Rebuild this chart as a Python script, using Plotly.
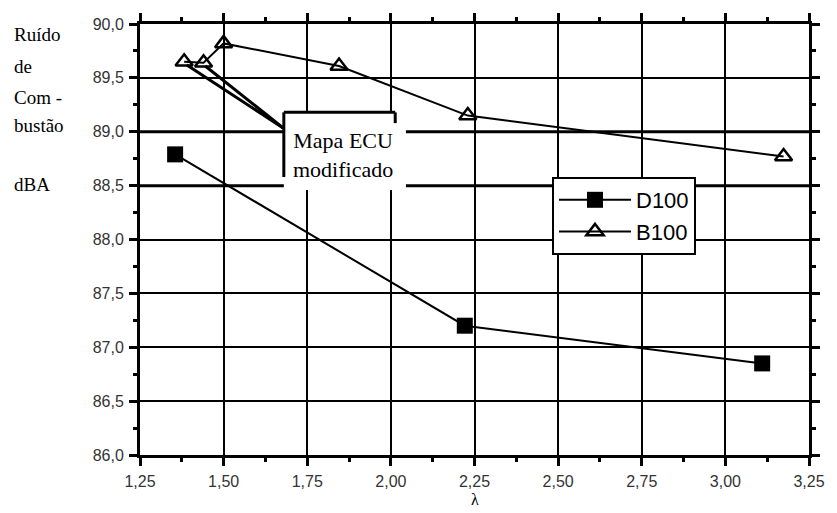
import plotly.graph_objects as go

# Data
d100_x = [1.355, 2.221, 3.11]
d100_y = [88.79, 87.20, 86.85]
b100_x = [1.382, 1.44, 1.50, 1.845, 2.23, 3.174]
b100_y = [89.65, 89.64, 89.82, 89.61, 89.15, 88.77]
x_ticks = [1.25, 1.50, 1.75, 2.00, 2.25, 2.50, 2.75, 3.00, 3.25]
y_ticks = [86.0, 86.5, 87.0, 87.5, 88.0, 88.5, 89.0, 89.5, 90.0]
title_lines = ["Ruído", "de", "Com -", "bustão", "dBA"]
title_px_y = [34, 66, 97, 125, 185]

fig = go.Figure()
fig.add_trace(go.Scatter(x=d100_x, y=d100_y, name="D100", mode="lines+markers",
                         line=dict(color="black", width=2),
                         marker=dict(symbol="square", size=16, color="black")))
fig.add_trace(go.Scatter(x=b100_x, y=b100_y, name="B100", mode="lines+markers",
                         line=dict(color="black", width=2),
                         marker=dict(symbol="triangle-up-open", size=15, color="black",
                                     line=dict(width=2.5, color="black"))))

L, R, T, B = 140, 15, 24, 58
W, H = 837, 513
pw, ph = W - L - R, H - T - B

axis_common = dict(showline=True, linecolor="black", linewidth=3, mirror="ticks",
                   ticks="outside", ticklen=8, tickwidth=3, tickcolor="black",
                   showgrid=True, gridcolor="black", gridwidth=2, zeroline=False,
                   tickfont=dict(family="Liberation Sans, Arial", size=16, color="#333"))

fig.update_xaxes(range=[1.25, 3.25], tickvals=x_ticks, tickformat=".2f",
                 ticklabelstandoff=2,
                 minor=dict(ticks="outside", ticklen=4, tickwidth=3, tickcolor="black",
                            dtick=0.125, tick0=1.25, showgrid=False),
                 **axis_common)
fig.update_yaxes(range=[86.0, 90.0], tickvals=y_ticks, tickformat=".1f",
                 ticklabelstandoff=2,
                 minor=dict(ticks="outside", ticklen=4, tickwidth=3, tickcolor="black",
                            dtick=0.25, tick0=86.0, showgrid=False),
                 **axis_common)

shapes = []
# thicker gridlines
for yv in [89.0, 88.5]:
    shapes.append(dict(type="line", xref="paper", yref="y", x0=0, x1=1, y0=yv, y1=yv,
                       line=dict(color="black", width=3), layer="below"))
# annotation box (white area + partial frame)
shapes.append(dict(type="rect", xref="x", yref="y", x0=1.68, x1=2.045, y0=88.46, y1=89.18,
                   fillcolor="white", line=dict(width=0), layer="above"))
shapes.append(dict(type="line", xref="x", yref="y", x0=1.68, x1=1.68, y0=88.58, y1=89.18,
                   line=dict(color="black", width=3), layer="above"))
shapes.append(dict(type="line", xref="x", yref="y", x0=1.68, x1=2.013, y0=89.18, y1=89.18,
                   line=dict(color="black", width=3), layer="above"))
shapes.append(dict(type="line", xref="x", yref="y", x0=2.013, x1=2.013, y0=89.08, y1=89.18,
                   line=dict(color="black", width=3), layer="above"))
# pointer lines from first two triangles to box
for (px, py) in [(1.39, 89.62), (1.445, 89.61)]:
    shapes.append(dict(type="line", xref="x", yref="y", x0=px, y0=py, x1=1.678, y1=89.035,
                       line=dict(color="black", width=3), layer="above"))
fig.update_layout(shapes=shapes)

annotations = [dict(x=1.858, y=88.78, xref="x", yref="y", text="Mapa ECU<br>modificado",
                    showarrow=False, font=dict(family="Liberation Serif, Times New Roman",
                                               size=22, color="black"))]
for txt, py in zip(title_lines, title_px_y):
    annotations.append(dict(x=(10 - L) / pw, y=1 - (py - T) / ph, xref="paper", yref="paper",
                            text=txt, showarrow=False, xanchor="left", yanchor="middle",
                            font=dict(family="Liberation Serif, Times New Roman", size=19,
                                      color="black")))
annotations.append(dict(x=0.5, y=-(500 - (H - B)) / ph, xref="paper", yref="paper", text="λ",
                        showarrow=False, yanchor="middle",
                        font=dict(family="Liberation Serif, Times New Roman", size=16,
                                  color="black")))
fig.update_layout(annotations=annotations)

fig.update_layout(
    width=W, height=H, margin=dict(l=L, r=R, t=T, b=B),
    paper_bgcolor="white", plot_bgcolor="white",
    separators=",.",
    showlegend=True,
    legend=dict(x=(560 - L) / pw, y=1 - (177 - T) / ph, xanchor="left", yanchor="top",
                bgcolor="white", bordercolor="black", borderwidth=2,
                font=dict(family="Liberation Sans, Arial", size=22, color="black"),
                tracegroupgap=0, itemwidth=72),
)

fig.write_html("out.html")
